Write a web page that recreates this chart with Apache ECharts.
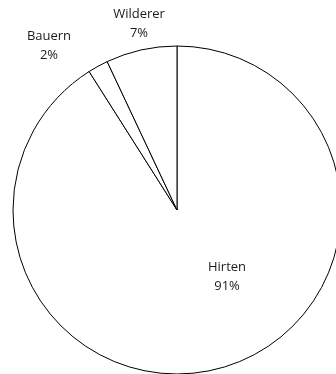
<!DOCTYPE html>
<html><head><meta charset="utf-8">
<script src="https://cdn.jsdelivr.net/npm/echarts@6/dist/echarts.min.js"></script>
<style>html,body{margin:0;padding:0;background:#fff;}#c{width:336px;height:374px;}</style>
</head><body><div id="c"></div>
<script>
const categories = ['Hirten', 'Bauern', 'Wilderer'];
const values = [91, 2, 7];

const labelPos = { Hirten: [227, 277], Bauern: [49, 46], Wilderer: [139, 24] };

const chart = echarts.init(document.getElementById('c'), null, { renderer: 'canvas' });
chart.setOption({
  animation: false,
  backgroundColor: '#fff',
  series: [{
    type: 'pie',
    center: [177, 210],
    radius: 164,
    startAngle: 90,
    clockwise: true,
    silent: true,
    data: categories.map((n, i) => ({ name: n, value: values[i] })),
    itemStyle: { color: '#fff', borderColor: '#000', borderWidth: 1 },
    label: {
      show: true,
      position: 'inside',
      formatter: p => p.name + '\n' + p.value + '%',
      fontFamily: 'Open Sans, Liberation Sans, sans-serif',
      fontSize: 13,
      lineHeight: 19,
      color: '#1a1a1a',
      align: 'center'
    },
    labelLine: { show: false },
    labelLayout: function (params) {
      const name = categories[params.dataIndex];
      const p = labelPos[name];
      return { x: p[0], y: p[1], align: 'center', verticalAlign: 'middle' };
    }
  }]
});
</script></body></html>
